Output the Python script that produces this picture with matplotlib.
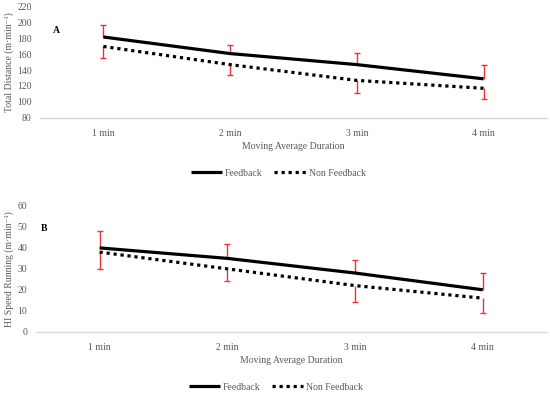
import matplotlib
matplotlib.use("Agg")
import matplotlib.pyplot as plt
import numpy as np

categories = ["1 min", "2 min", "3 min", "4 min"]

# Panel A: Total Distance
td_feedback = [182, 161, 147, 129]
td_feedback_upper = [197, 172, 162, 147]
td_nonfeedback = [170, 147, 127, 117]
td_nonfeedback_lower = [156, 134, 111, 103]

# Panel B: HI Speed Running
hsr_feedback = [40, 35, 28, 20]
hsr_feedback_upper = [48, 42, 34, 28]
hsr_nonfeedback = [38, 30, 22, 16]
hsr_nonfeedback_lower = [30, 24, 14, 9]

plt.rcParams['font.family'] = ['Liberation Serif', 'DejaVu Serif']
grey = "#595959"
red = "#e8323c"

fig = plt.figure(figsize=(5.5, 3.96), dpi=100)

def panel(rect, feed, feed_up, nonf, nonf_lo, ylim, yticks, ylabel, ylabel_x, letter, letter_pos, legend_y):
    ax = fig.add_axes(rect)
    x = np.arange(len(categories)) + 0.5
    # error bars
    ax.vlines(x, feed, feed_up, color=red, lw=1.0, zorder=1)
    ax.plot(x, feed_up, ls='none', marker='_', ms=5, mew=1.0, color=red, zorder=1)
    ax.vlines(x, nonf_lo, nonf, color=red, lw=1.0, zorder=1)
    ax.plot(x, nonf_lo, ls='none', marker='_', ms=5, mew=1.0, color=red, zorder=1)
    ax.plot(x, feed, color='black', lw=2.3, solid_capstyle='butt', label='Feedback', zorder=3)
    ax.plot(x, nonf, color='black', lw=2.3, ls=(0, (1, 1.2)), label='Non Feedback', zorder=3)
    ax.set_xlim(0, len(categories))
    ax.set_ylim(*ylim)
    ax.set_yticks(yticks)
    ax.set_xticks(x)
    ax.set_xticklabels(categories)
    for s in ['top', 'right', 'left']:
        ax.spines[s].set_visible(False)
    ax.spines['bottom'].set_color('#d9d9d9')
    ax.spines['bottom'].set_linewidth(1.0)
    ax.tick_params(axis='both', length=0, labelsize=7, colors=grey, pad=6)
    ax.tick_params(axis='x', pad=8)
    ax.set_xlabel("Moving Average Duration", fontsize=7, color=grey, labelpad=3)
    ax.set_ylabel(ylabel, fontsize=7, color=grey)
    ax.yaxis.set_label_coords(ylabel_x, 0.5)
    ax.text(letter_pos[0], letter_pos[1], letter, transform=ax.transAxes, fontsize=7,
            fontweight='bold', color='black', ha='center', va='center')
    ax.legend(loc='center', bbox_to_anchor=(0.47, legend_y), ncol=2, frameon=False,
              fontsize=7, handlelength=3.2, columnspacing=1.2, handletextpad=0.3,
              labelcolor=grey)
    return ax

panel([40/550, (396-117.5)/396, 507/550, 110.5/396],
      td_feedback, td_feedback_upper, td_nonfeedback, td_nonfeedback_lower,
      (80, 220), range(80, 221, 20), "Total Distance (m·min⁻¹)", (14 - 40) / 507, "A",
      (0.032, 0.79), -0.505)

panel([35.7/550, (396-331.7)/396, 511/550, 125.7/396],
      hsr_feedback, hsr_feedback_upper, hsr_nonfeedback, hsr_nonfeedback_lower,
      (0, 60), range(0, 61, 10), "HI Speed Running (m·min⁻¹)", (14 - 35.7) / 511, "B",
      (0.017, 0.82), -0.44)

fig.savefig("out.png", dpi=100)
